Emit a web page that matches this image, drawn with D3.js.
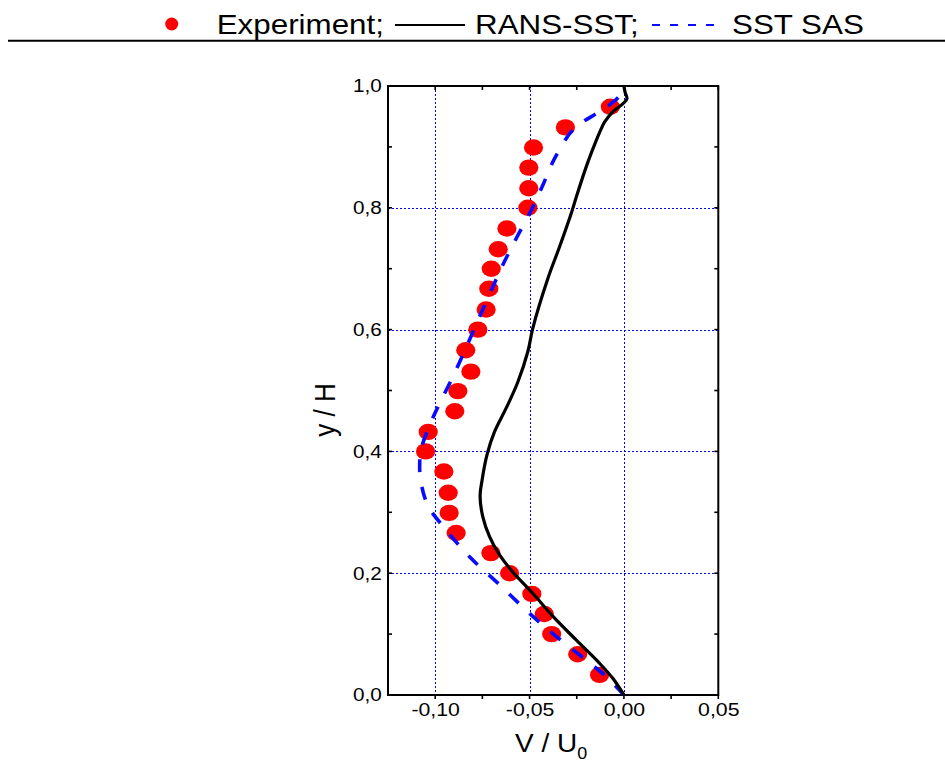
<!DOCTYPE html>
<html><head><meta charset="utf-8">
<script src="https://cdn.jsdelivr.net/npm/d3@7"></script>
<style>body{margin:0;background:#fff}svg{display:block}text{font-family:"Liberation Sans",Arial,sans-serif;fill:#000}</style>
</head><body><svg id="c" width="945" height="763"></svg>
<script>
// Experiment points
const expV = [-0.0072,-0.0310,-0.0479,-0.0504,-0.0504,-0.0509,-0.0620,-0.0666,-0.0703,-0.0716,-0.0730,-0.0774,-0.0838,-0.0811,-0.0880,-0.0896,-0.1037,-0.1051,-0.0954,-0.0931,-0.0926,-0.0889,-0.0705,-0.0606,-0.0488,-0.0422,-0.0383,-0.0245,-0.0129];
const expY = [0.966,0.932,0.899,0.866,0.832,0.800,0.766,0.732,0.700,0.667,0.633,0.600,0.566,0.531,0.499,0.466,0.432,0.400,0.367,0.332,0.299,0.266,0.233,0.200,0.166,0.133,0.100,0.067,0.033];
// RANS-SST
const ransV = [0.000,-0.0058,-0.0129,-0.0252,-0.0376,-0.0483,-0.0589,-0.0659,-0.0712,-0.0748,-0.0762,-0.0752,-0.0726,-0.0686,-0.0624,-0.0562,-0.0509,-0.0483,-0.0403,-0.0341,-0.0279,-0.0252,-0.0199,-0.0146,-0.0120,-0.0102,-0.0058,-0.0005,0.0016,0.0006,0.000];
const ransY = [0.000,0.027,0.052,0.090,0.129,0.167,0.202,0.230,0.260,0.293,0.326,0.352,0.394,0.432,0.471,0.514,0.564,0.602,0.684,0.736,0.791,0.818,0.868,0.911,0.930,0.941,0.958,0.971,0.979,0.990,1.000];
// SST SAS
const sasV = [0.000,-0.0093,-0.0199,-0.0358,-0.0500,-0.0659,-0.0818,-0.0942,-0.1040,-0.1078,-0.1082,-0.1076,-0.1021,-0.0968,-0.0898,-0.0827,-0.0765,-0.0695,-0.0642,-0.0570,-0.0491,-0.0430,-0.0367,-0.0270,-0.0146,-0.0076,-0.0020,0.000];
const sasY = [0.000,0.030,0.057,0.096,0.134,0.181,0.227,0.271,0.312,0.355,0.380,0.402,0.449,0.484,0.528,0.577,0.621,0.670,0.706,0.750,0.796,0.837,0.881,0.928,0.955,0.969,0.985,1.000];
// ticks
const xMajor = [-0.10,-0.05,0.00,0.05];
const xMinor = [-0.075,-0.025,0.025];
const yMajor = [0.0,0.2,0.4,0.6,0.8,1.0];
const yMinor = [0.1,0.3,0.5,0.7,0.9];
const xGrid = [-0.10,-0.05,0.00];
const yGrid = [0.2,0.4,0.6,0.8];
const legendLabels = ["Experiment;","RANS-SST;","SST SAS"];

const svg = d3.select("#c");
const SX = 1.12;
const x = d3.scaleLinear().domain([-0.125,0.05]).range([388,718.3]);
const y = d3.scaleLinear().domain([0,1]).range([695,86]);
const px = v => Math.round(v) + 0.5;
const fmt = d => d3.format(".2f")(d).replace(".",",").replace("−","-");
const fmtY = d => d3.format(".1f")(d).replace(".",",");

// grid
const g = svg.append("g");
g.selectAll(".gx").data(xGrid).join("line")
  .attr("x1",d=>px(x(d))).attr("x2",d=>px(x(d))).attr("y1",y(1)).attr("y2",y(0))
  .attr("stroke","#0000ff").attr("stroke-width",1).attr("stroke-dasharray","2,2");
g.selectAll(".gy").data(yGrid).join("line")
  .attr("y1",d=>px(y(d))).attr("y2",d=>px(y(d))).attr("x1",x(-0.125)).attr("x2",x(0.05))
  .attr("stroke","#0000ff").attr("stroke-width",1).attr("stroke-dasharray","2,2");

// axes labels via d3 axes
const ax = svg.append("g").attr("transform",`translate(0,${y(0)})`)
  .call(d3.axisBottom(x).tickValues(xMajor).tickFormat(fmt).tickSize(0).tickPadding(8));
ax.select(".domain").remove();
ax.selectAll("text").attr("font-size",19).attr("font-family","Liberation Sans, Arial").attr("transform",`scale(${SX},1)`);
const ay = svg.append("g").attr("transform",`translate(${x(-0.125)},0)`)
  .call(d3.axisLeft(y).tickValues(yMajor).tickFormat(fmtY).tickSize(0).tickPadding(5.6));
ay.select(".domain").remove();
ay.selectAll("text").attr("font-size",18.5).attr("font-family","Liberation Sans, Arial").attr("transform",`scale(${SX},1)`);

// tick marks
const tk = svg.append("g").attr("stroke","#000").attr("stroke-width",1.6);
const allX = xMajor.concat(xMinor);
const allY = yMajor.concat(yMinor);
tk.selectAll(".tb").data(allX).join("line").attr("x1",d=>x(d)).attr("x2",d=>x(d)).attr("y1",y(0)).attr("y2",y(0)+4);
tk.selectAll(".tt").data(allX).join("line").attr("x1",d=>x(d)).attr("x2",d=>x(d)).attr("y1",y(1)).attr("y2",y(1)+4);
tk.selectAll(".tl").data(allY).join("line").attr("y1",d=>y(d)).attr("y2",d=>y(d)).attr("x1",x(-0.125)).attr("x2",x(-0.125)+4);
tk.selectAll(".tr").data(allY).join("line").attr("y1",d=>y(d)).attr("y2",d=>y(d)).attr("x1",x(0.05)).attr("x2",x(0.05)-4);

// frame
svg.append("rect").attr("x",x(-0.125)).attr("y",y(1)).attr("width",x(0.05)-x(-0.125)).attr("height",y(0)-y(1))
  .attr("fill","none").attr("stroke","#000").attr("stroke-width",2);

const line = d3.line().x(d=>x(d[0])).y(d=>y(d[1])).curve(d3.curveCatmullRom.alpha(0.5));
const rans = ransV.map((v,i)=>[v,ransY[i]]);
const sas = sasV.map((v,i)=>[v,sasY[i]]);

// experiment markers
svg.append("g").selectAll("ellipse").data(expV.map((v,i)=>[v,expY[i]])).join("ellipse")
  .attr("cx",d=>x(d[0])).attr("cy",d=>y(d[1])).attr("rx",9.6).attr("ry",8.2).attr("fill","#ff0000");

svg.append("path").attr("d",line(sas)).attr("fill","none").attr("stroke","#0a0aff").attr("stroke-width",3.6).attr("stroke-dasharray","13,15");
svg.append("path").attr("d",line(rans)).attr("fill","none").attr("stroke","#000").attr("stroke-width",3.2);

// axis titles
const xt = svg.append("text").attr("transform",`translate(515,751.5) scale(${SX},1)`).attr("font-size",25);
xt.append("tspan").text("V / U");
xt.append("tspan").attr("font-size",16).attr("dy",7).text("0");
svg.append("text").attr("transform",`translate(335,410) rotate(-90) scale(1,${SX})`).attr("text-anchor","middle").attr("font-size",26).text("y / H");

// legend
const lg = svg.append("g");
lg.append("circle").attr("cx",171.7).attr("cy",24).attr("r",6.5).attr("fill","#ff0000");
lg.append("text").attr("transform",`translate(216.7,34.3) scale(${SX},1)`).attr("font-size",28).text(legendLabels[0]);
lg.append("line").attr("x1",395).attr("x2",465).attr("y1",25).attr("y2",25).attr("stroke","#000").attr("stroke-width",2.2);
lg.append("text").attr("transform",`translate(475,34.3) scale(${SX},1)`).attr("font-size",28).text(legendLabels[1]);
lg.append("line").attr("x1",652).attr("x2",714).attr("y1",25).attr("y2",25).attr("stroke","#0a0aff").attr("stroke-width",2).attr("stroke-dasharray","8,10");
lg.append("text").attr("transform",`translate(732,34.3) scale(${SX},1)`).attr("font-size",28).text(legendLabels[2]);
lg.append("line").attr("x1",8).attr("x2",945).attr("y1",40.7).attr("y2",40.7).attr("stroke","#000").attr("stroke-width",2);
</script></body></html>
